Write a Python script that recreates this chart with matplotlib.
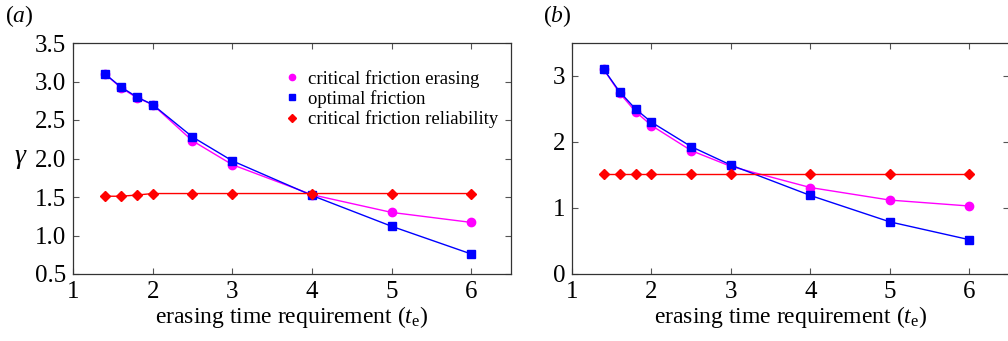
import matplotlib
matplotlib.use("Agg")
import matplotlib.pyplot as plt
from matplotlib.ticker import MultipleLocator, FormatStrFormatter

plt.rcParams['font.family'] = ['Liberation Serif', 'DejaVu Serif']
plt.rcParams['mathtext.fontset'] = 'custom'
plt.rcParams['mathtext.rm'] = 'Liberation Serif'
plt.rcParams['mathtext.it'] = 'Liberation Serif:italic'

x = [1.4, 1.6, 1.8, 2.0, 2.5, 3.0, 4.0, 5.0, 6.0]

a_erasing = [3.10, 2.92, 2.79, 2.70, 2.23, 1.92, 1.53, 1.30, 1.17]
a_optimal = [3.10, 2.93, 2.80, 2.70, 2.28, 1.97, 1.52, 1.12, 0.76]
a_reliability = [1.51, 1.51, 1.525, 1.545, 1.545, 1.545, 1.545, 1.545, 1.545]

b_erasing = [3.10, 2.74, 2.46, 2.25, 1.87, 1.63, 1.31, 1.12, 1.03]
b_optimal = [3.10, 2.76, 2.50, 2.30, 1.93, 1.65, 1.19, 0.79, 0.52]
b_reliability = [1.515] * 9

labels = ['critical friction erasing', 'optimal friction', 'critical friction reliability']

fig = plt.figure(figsize=(10.08, 3.41), dpi=100)
axA = fig.add_axes([73/1008, 1-274/341, (511-73)/1008, (274-43)/341])
axB = fig.add_axes([572/1008, 1-274/341, (1009-572)/1008, (274-43)/341])

def draw(ax, er, op, re):
    l1, = ax.plot(x, er, color='#ff00ff', marker='o', ms=6, lw=1.0, label=labels[0])
    l2, = ax.plot(x, op, color='#0000ff', marker='s', ms=5.5, lw=1.0, label=labels[1])
    l3, = ax.plot(x, re, color='#ff0000', marker='D', ms=5, lw=1.0, label=labels[2])
    ax.set_xlim(1, 6.5)
    ax.xaxis.set_major_locator(MultipleLocator(1))
    ax.tick_params(direction='in', top=True, right=True, length=4, width=0.8,
                   labelsize=18, color='#555555', pad=5)
    for s in ax.spines.values():
        s.set_color('#333333')
        s.set_linewidth(0.9)
    ax.set_xlabel('erasing time requirement ($t_\\mathrm{e}$)', fontsize=17, labelpad=1)
    return l1, l2, l3

handles = draw(axA, a_erasing, a_optimal, a_reliability)
axA.set_ylim(0.5, 3.5)
axA.yaxis.set_major_locator(MultipleLocator(0.5))
axA.yaxis.set_major_formatter(FormatStrFormatter('%.1f'))
axA.set_ylabel('$\\gamma$', fontsize=20, rotation=0, labelpad=10, va='center')
axA.legend(handles=handles, loc='upper right', bbox_to_anchor=(1.0, 0.94), frameon=False,
           fontsize=13.5, handlelength=0.5, handletextpad=0.6, labelspacing=0.12,
           markerscale=0.75, borderaxespad=0.3)
leg = axA.get_legend()
for h in leg.legend_handles:
    h.set_linestyle('None')

draw(axB, b_erasing, b_optimal, b_reliability)
axB.set_ylim(0, 3.5)
axB.yaxis.set_major_locator(MultipleLocator(1))

fig.text(5/1008, 1-16/341, '($a$)', fontsize=17, va='center', ha='left')
fig.text(543/1008, 1-16/341, '($b$)', fontsize=17, va='center', ha='left')

fig.savefig('out.png', dpi=100)
